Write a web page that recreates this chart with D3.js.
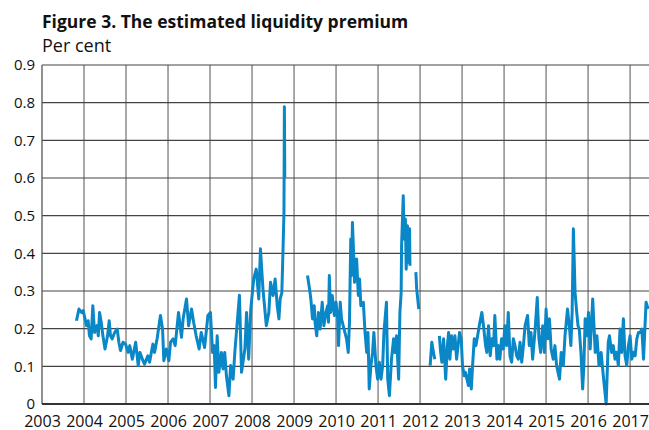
<!DOCTYPE html>
<meta charset="utf-8">
<script src="https://d3js.org/d3.v7.js"></script>
<style>
  body { margin: 0; background: #fff; }
  text { font-family: "Open Sans", sans-serif; fill: #111; }
</style>
<div id="chart"></div>
<script>

// estimated liquidity premium, per cent [year, value]
// the series has gaps, so it is kept in separate pieces
var piece2003 = [
  [2003.82,0.221],[2003.88,0.252],[2003.94,0.243],[2003.98,0.248],[2004.06,0.208],[2004.10,0.221],
  [2004.13,0.181],[2004.17,0.173],[2004.21,0.261],[2004.25,0.190],[2004.31,0.208],[2004.34,0.181],
  [2004.37,0.243],[2004.41,0.217],[2004.45,0.181],[2004.50,0.146],[2004.56,0.181],[2004.60,0.221],
  [2004.63,0.181],[2004.67,0.173],[2004.73,0.190],[2004.79,0.199],[2004.83,0.164],[2004.87,0.142],
  [2004.93,0.164],[2004.99,0.159],[2005.05,0.137],[2005.09,0.155],[2005.15,0.119],[2005.23,0.164],
  [2005.29,0.102],[2005.33,0.137],[2005.39,0.119],[2005.44,0.106],[2005.52,0.128],[2005.56,0.111],
  [2005.64,0.159],[2005.68,0.137],[2005.74,0.173],[2005.82,0.235],[2005.87,0.199],[2005.90,0.115],
  [2005.96,0.146],[2006.02,0.115],[2006.06,0.164],[2006.12,0.173],[2006.17,0.155],[2006.25,0.243],
  [2006.32,0.177],[2006.36,0.226],[2006.44,0.279],[2006.49,0.208],[2006.56,0.252],[2006.61,0.217],
  [2006.67,0.181],[2006.74,0.146],[2006.79,0.190],[2006.87,0.150],[2006.95,0.235],[2007.01,0.243],
  [2007.06,0.137],[2007.10,0.155],[2007.13,0.044],[2007.17,0.181],[2007.21,0.084],[2007.27,0.137],
  [2007.31,0.093],[2007.35,0.137],[2007.39,0.075],[2007.45,0.022],[2007.49,0.102],[2007.55,0.066],
  [2007.59,0.137],[2007.70,0.289],[2007.75,0.084],[2007.83,0.146],[2007.87,0.243],[2007.92,0.119],
  [2007.97,0.252],[2008.04,0.332],[2008.10,0.358],[2008.16,0.279],[2008.20,0.412],[2008.26,0.305],
  [2008.34,0.208],[2008.40,0.243],[2008.44,0.323],[2008.50,0.288],[2008.55,0.332],[2008.60,0.261],
  [2008.64,0.226],[2008.67,0.279],[2008.71,0.296],[2008.74,0.420],[2008.76,0.509],[2008.77,0.789],
  [2008.78,0.600]
];

var piece2009 = [
  [2009.32,0.341],[2009.37,0.305],[2009.40,0.279],[2009.44,0.226],[2009.48,0.261],[2009.50,0.217],
  [2009.54,0.181],[2009.58,0.243],[2009.62,0.199],[2009.67,0.270],[2009.71,0.208],[2009.76,0.243],
  [2009.80,0.261],[2009.82,0.217],[2009.84,0.341],[2009.87,0.243],[2009.91,0.288],[2009.96,0.235],
  [2010.00,0.270],[2010.04,0.226],[2010.06,0.155],[2010.10,0.270],[2010.13,0.226],[2010.17,0.208],
  [2010.21,0.190],[2010.25,0.173],[2010.29,0.137],[2010.32,0.217],[2010.35,0.438],[2010.37,0.341],
  [2010.39,0.482],[2010.42,0.394],[2010.44,0.323],[2010.49,0.385],[2010.53,0.288],[2010.56,0.332],
  [2010.59,0.261],[2010.65,0.270],[2010.69,0.190],[2010.73,0.137],[2010.76,0.190],[2010.79,0.040],
  [2010.83,0.102],[2010.87,0.137],[2010.90,0.190],[2010.95,0.102],[2010.99,0.066],[2011.03,0.111],
  [2011.07,0.066],[2011.11,0.102],[2011.14,0.190],[2011.20,0.270],[2011.23,0.066],[2011.27,0.022],
  [2011.32,0.119],[2011.37,0.173],[2011.40,0.137],[2011.44,0.181],[2011.49,0.066],[2011.52,0.243],
  [2011.55,0.296],[2011.56,0.420],[2011.60,0.553],[2011.62,0.438],[2011.65,0.491],[2011.67,0.358],
  [2011.70,0.473],[2011.73,0.376],[2011.75,0.465],[2011.76,0.367]
];

var piece2011 = [
  [2011.90,0.350],[2011.92,0.305],[2011.97,0.252]
];

var piece2012 = [
  [2012.24,0.102],[2012.28,0.164],[2012.32,0.137],[2012.35,0.119]
];

var piece2012b = [
  [2012.46,0.181],[2012.49,0.137],[2012.52,0.111],[2012.56,0.173],[2012.61,0.066],[2012.65,0.155],
  [2012.68,0.190],[2012.71,0.119],[2012.75,0.181],[2012.79,0.146],[2012.83,0.181],[2012.87,0.119],
  [2012.94,0.190],[2012.98,0.173],[2013.01,0.102],[2013.05,0.075],[2013.08,0.084],[2013.15,0.049],
  [2013.18,0.093],[2013.22,0.040],[2013.25,0.102],[2013.29,0.173],[2013.33,0.155],[2013.37,0.181],
  [2013.41,0.208],[2013.47,0.243],[2013.51,0.208],[2013.56,0.155],[2013.59,0.137],[2013.63,0.208],
  [2013.67,0.128],[2013.71,0.173],[2013.75,0.155],[2013.78,0.235],[2013.83,0.119],[2013.87,0.155],
  [2013.90,0.119],[2013.94,0.173],[2013.98,0.146],[2014.02,0.208],[2014.06,0.155],[2014.10,0.243],
  [2014.14,0.128],[2014.18,0.111],[2014.22,0.173],[2014.26,0.155],[2014.30,0.128],[2014.34,0.119],
  [2014.38,0.164],[2014.42,0.111],[2014.46,0.155],[2014.50,0.208],[2014.56,0.235],[2014.60,0.155],
  [2014.64,0.190],[2014.68,0.119],[2014.74,0.199],[2014.79,0.283],[2014.83,0.173],[2014.87,0.137],
  [2014.92,0.208],[2014.96,0.137],[2015.00,0.252],[2015.04,0.173],[2015.08,0.226],[2015.12,0.146],
  [2015.17,0.119],[2015.21,0.155],[2015.25,0.102],[2015.32,0.066],[2015.36,0.137],[2015.41,0.102],
  [2015.45,0.181],[2015.51,0.252],[2015.56,0.199],[2015.59,0.155],[2015.62,0.243],[2015.65,0.465],
  [2015.69,0.296],[2015.73,0.243],[2015.76,0.208],[2015.79,0.199],[2015.83,0.137],[2015.87,0.040],
  [2015.90,0.102],[2015.93,0.226],[2015.97,0.181],[2016.01,0.243],[2016.05,0.146],[2016.11,0.279],
  [2016.17,0.137],[2016.21,0.181],[2016.26,0.102],[2016.31,0.137],[2016.37,0.066],[2016.41,0.022],
  [2016.43,0.000],[2016.45,0.066],[2016.48,0.164],[2016.51,0.181],[2016.56,0.137],[2016.60,0.155],
  [2016.64,0.119],[2016.68,0.137],[2016.72,0.102],[2016.76,0.199],[2016.80,0.137],[2016.84,0.226],
  [2016.88,0.128],[2016.92,0.102],[2016.96,0.155],[2017.00,0.181],[2017.04,0.119],[2017.08,0.137],
  [2017.12,0.128],[2017.16,0.173],[2017.20,0.190],[2017.24,0.190],[2017.28,0.199],[2017.32,0.119],
  [2017.38,0.270],[2017.43,0.252]
];

var pieces = [piece2003, piece2009, piece2011, piece2012, piece2012b];

var yearTicks = d3.range(2003, 2018);
var valueTicks = [0, 0.1, 0.2, 0.3, 0.4, 0.5, 0.6, 0.7, 0.8, 0.9];

var W = 649, H = 430;
var plotLeft = 42, plotTop = 65, plotBottom = 404;

var svg = d3.select("#chart")
  .append("svg")
    .attr("width", W)
    .attr("height", H);

// titles
svg.append("text")
  .attr("x", 42).attr("y", 28)
  .style("font-size", "17.5px")
  .style("font-weight", "bold")
  .text("Figure 3. The estimated liquidity premium");

svg.append("text")
  .attr("x", 42).attr("y", 52)
  .style("font-size", "18px")
  .text("Per cent");

var x = d3.scaleLinear()
  .domain([2003, 2017.45])
  .range([plotLeft, W]);

var y = d3.scaleLinear()
  .domain([0, 0.9])
  .range([plotBottom, plotTop]);

// vertical grid, one line per year
svg.append("g")
  .selectAll("line")
  .data(yearTicks.slice(1))
  .enter()
  .append("line")
    .attr("x1", d => x(d)).attr("x2", d => x(d))
    .attr("y1", plotTop).attr("y2", plotBottom)
    .style("stroke", "#7a7a7a")
    .style("stroke-width", 1.3);

// horizontal grid
svg.append("g")
  .selectAll("line")
  .data(valueTicks.slice(1))
  .enter()
  .append("line")
    .attr("x1", plotLeft).attr("x2", W)
    .attr("y1", d => y(d)).attr("y2", d => y(d))
    .style("stroke", "#444")
    .style("stroke-width", 1.2);

// left edge
svg.append("line")
  .attr("x1", plotLeft).attr("x2", plotLeft)
  .attr("y1", plotTop).attr("y2", plotBottom)
  .style("stroke", "#555")
  .style("stroke-width", 1.3);

// the series
var line = d3.line()
  .x(d => x(d[0]))
  .y(d => y(d[1]));

svg.append("g")
  .selectAll("path")
  .data(pieces)
  .enter()
  .append("path")
    .attr("d", line)
    .style("fill", "none")
    .style("stroke", "#0a87c6")
    .style("stroke-width", 3)
    .style("stroke-linejoin", "round");

// x axis
var xAxis = svg.append("g")
  .attr("transform", "translate(0," + plotBottom + ")")
  .call(d3.axisBottom(x).tickValues(yearTicks).tickSize(0).tickFormat(d3.format("d")));
xAxis.select(".domain")
  .attr("d", "M" + plotLeft + ",0H" + W)
  .style("stroke", "#333")
  .style("stroke-width", 2);
xAxis.selectAll("text")
  .attr("y", 23)
  .attr("dy", 0)
  .style("font-size", "16px")
  .style("font-family", "'Open Sans', sans-serif")
  .style("fill", "#111");

// y axis
var yAxis = svg.append("g")
  .attr("transform", "translate(" + plotLeft + ",0)")
  .call(d3.axisLeft(y).tickValues(valueTicks).tickSize(0).tickFormat(d => d === 0 ? "0" : d3.format(".1f")(d)));
yAxis.select(".domain").remove();
yAxis.selectAll("text")
  .attr("x", -7)
  .style("font-size", "15px")
  .style("font-family", "'Open Sans', sans-serif")
  .style("fill", "#111");

</script>
